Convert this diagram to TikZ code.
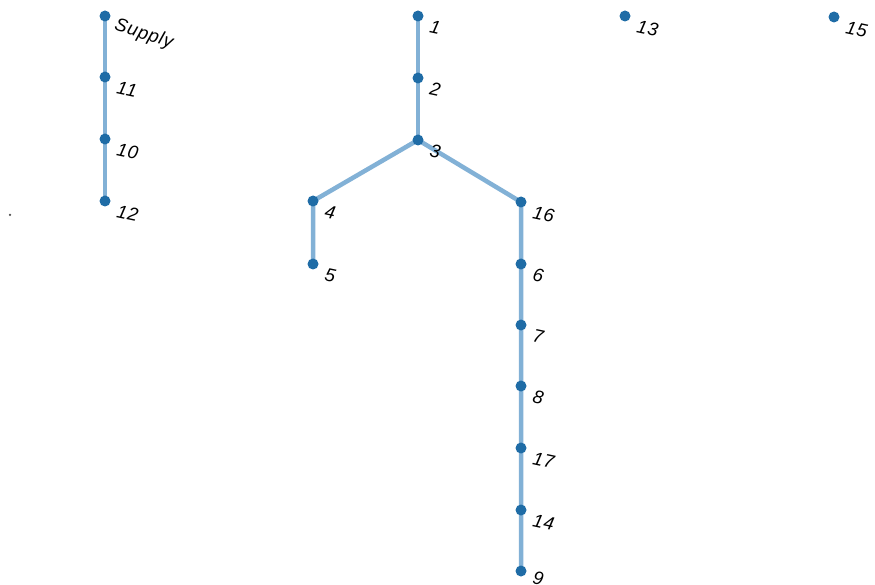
\documentclass[tikz,border=0pt]{standalone}
\usepackage{fontspec}
\setmainfont{Liberation Sans}
\definecolor{edgeblue}{HTML}{82B1D6}
\definecolor{dotblue}{HTML}{1F6CA6}
\tikzset{
  vtx/.style={circle,fill=dotblue,inner sep=0pt,minimum size=11pt},
  edge/.style={draw=edgeblue,line width=4.5pt},
  lbl/.style={anchor=west,inner sep=0pt,rotate=-12,font=\fontsize{18.5}{18.5}\selectfont\itshape\addfontfeature{LetterSpace=4}}
}
\begin{document}
\begin{tikzpicture}[x=1pt,y=-1pt]
\useasboundingbox (0,0) rectangle (875,585);
% coordinates
\coordinate (pS) at (105,16);
\coordinate (p11) at (105,77);
\coordinate (p10) at (105,139);
\coordinate (p12) at (105,201);
\coordinate (p1) at (418,16);
\coordinate (p2) at (418,78);
\coordinate (p3) at (418,140);
\coordinate (p4) at (313,201);
\coordinate (p5) at (313,264);
\coordinate (p16) at (521,202);
\coordinate (p6) at (521,264);
\coordinate (p7) at (521,325);
\coordinate (p8) at (521,386);
\coordinate (p17) at (521,448);
\coordinate (p14) at (521,510);
\coordinate (p9) at (521,571);
\coordinate (p13) at (625,16);
\coordinate (p15) at (834,17);
% edges
\draw[edge] (pS) -- (p11) -- (p10) -- (p12);
\draw[edge] (p1) -- (p2) -- (p3);
\draw[edge] (p3) -- (p4) -- (p5);
\draw[edge] (p3) -- (p16) -- (p6) -- (p7) -- (p8) -- (p17) -- (p14) -- (p9);
% vertices and labels
\foreach \n/\t in {11/11,10/10,12/12,1/1,2/2,3/3,4/4,5/5,16/16,6/6,7/7,8/8,17/17,14/14,13/13,15/15}{
  \node[vtx] (v\n) at (p\n) {};
  \node[lbl] (l\n) at ([shift={(12,10)}]p\n) {\t};
}
\node[vtx] (vS) at (pS) {};
\node[lbl,rotate=-6] (lS) at ([shift={(10,9)}]pS) {Supply};
\node[vtx] (v9) at (p9) {};
\node[lbl] (l9) at ([shift={(12,6)}]p9) {9};
% stray dot
\node[circle,fill=black!70,inner sep=0pt,minimum size=2.5pt] (stray) at (10,215) {};
\end{tikzpicture}
\end{document}
